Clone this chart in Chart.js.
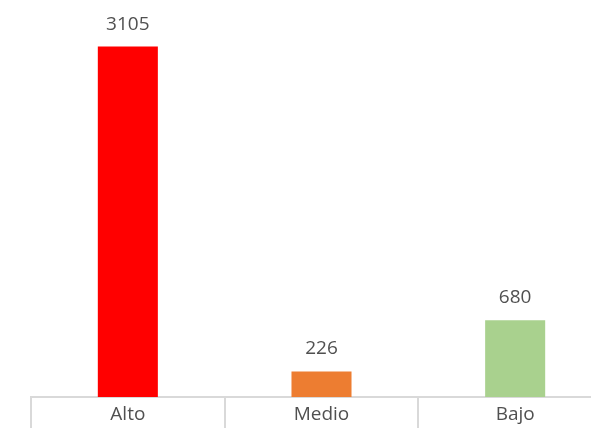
<!DOCTYPE html>
<html>
<head>
<meta charset="utf-8">
<script src="https://cdn.jsdelivr.net/npm/chart.js@4"></script>
<style>
  html, body { margin: 0; padding: 0; background: #fff; overflow: hidden; }
  .wrap { width: 591px; height: 428px; overflow: hidden; position: relative; }
  .holder { width: 640px; height: 428px; position: absolute; left: 0; top: 0; }
</style>
</head>
<body>
<div class="wrap">
  <div class="holder"><canvas class="graph-holder"></canvas></div>
</div>
<script>
const categories = ['Alto', 'Medio', 'Bajo'];
const values = [3105, 226, 680];
const barColors = ['#FF0000', '#ED7D31', '#A9D18E'];

const ctx = document.querySelector('.graph-holder').getContext('2d');

// value labels on top of each bar
const valueLabels = {
  id: 'valueLabels',
  afterDatasetsDraw(chart) {
    const c = chart.ctx;
    const meta = chart.getDatasetMeta(0);
    c.save();
    c.font = '19px "Open Sans"';
    c.fillStyle = '#505050';
    c.textAlign = 'center';
    c.textBaseline = 'alphabetic';
    meta.data.forEach((bar, i) => {
      c.fillText(String(values[i]), bar.x, bar.y - 17);
    });
    c.restore();
  }
};

const data = {
  labels: categories,
  datasets: [{
    data: values,
    backgroundColor: barColors,
    borderWidth: 0,
    barPercentage: 0.31,
    categoryPercentage: 1
  }]
};

const options = {
  responsive: true,
  maintainAspectRatio: false,
  animation: false,
  layout: { padding: { left: 31, right: 28, top: 2, bottom: 0 } },
  plugins: {
    legend: { display: false },
    tooltip: { enabled: false }
  },
  scales: {
    x: {
      grid: {
        offset: true,
        drawOnChartArea: false,
        tickLength: 31,
        color: '#D9D9D9',
        lineWidth: 2
      },
      border: { color: '#D9D9D9', width: 2 },
      ticks: {
        color: '#505050',
        font: { family: 'Open Sans', size: 19 },
        padding: -25,
        maxRotation: 0
      },
      afterFit(scale) { scale.height = 31; }
    },
    y: {
      display: false,
      min: 0,
      max: 3500
    }
  }
};

const myBarChart = new Chart(ctx, {
  type: 'bar',
  data: data,
  options: options,
  plugins: [valueLabels]
});
</script>
</body>
</html>
